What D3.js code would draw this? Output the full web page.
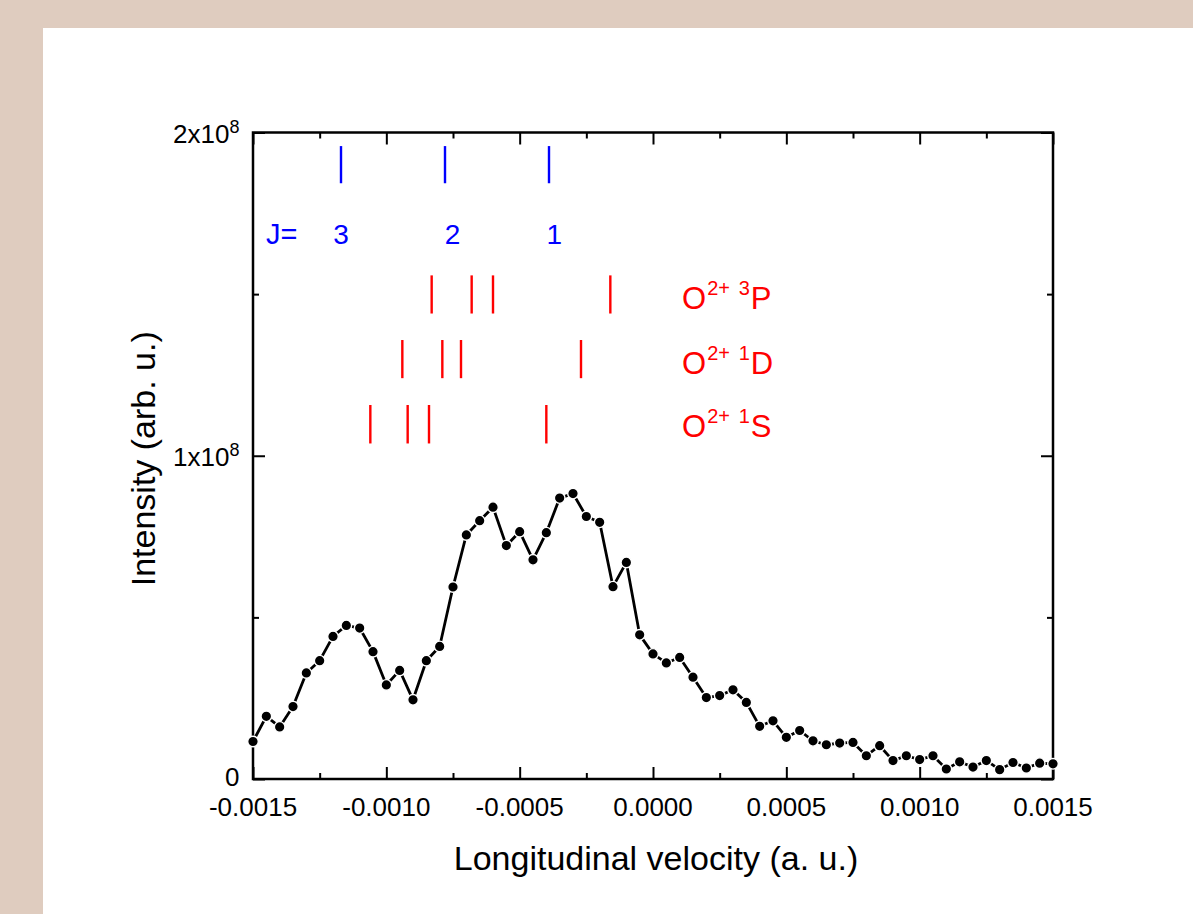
<!DOCTYPE html>
<html>
<head>
<meta charset="utf-8">
<script src="https://cdn.jsdelivr.net/npm/d3@7"></script>
<style>
  html, body { margin: 0; padding: 0; background: #dfccbf; }
  svg { display: block; }
  text { font-family: "Liberation Sans", Arial, Helvetica, sans-serif; }
</style>
</head>
<body>
<svg id="chart" width="1193" height="914"></svg>
<script>
// Measured spectrum: longitudinal velocity (units of 1e-5 a.u.) and intensity (units of 1e6)
const velocityE5 = [
  -150, -145, -140, -135, -130, -125, -120, -115, -110, -105,
  -100,  -95,  -90,  -85,  -80,  -75,  -70,  -65,  -60,  -55,
   -50,  -45,  -40,  -35,  -30,  -25,  -20,  -15,  -10,   -5,
     0,    5,   10,   15,   20,   25,   30,   35,   40,   45,
    50,   55,   60,   65,   70,   75,   80,   85,   90,   95,
   100,  105,  110,  115,  120,  125,  130,  135,  140,  145,
   150
];
const intensityE6 = [
  11.6, 19.4, 16.1, 22.4, 32.8, 36.6, 44.1, 47.5, 46.7, 39.4,
  29.1, 33.6, 24.5, 36.6, 41.0, 59.4, 75.5, 79.9, 84.1, 72.2,
  76.5, 67.8, 76.2, 86.9, 88.3, 81.2, 79.4, 59.5, 67.0, 44.6,
  38.7, 35.9, 37.6, 31.5, 25.2, 25.8, 27.6, 23.7, 16.3, 18.0,
  12.9, 15.0, 11.8, 10.6, 11.1, 11.3,  7.2, 10.3,  5.7,  7.2,
   6.0,  7.2,  3.1,  5.3,  3.7,  5.7,  2.9,  5.1,  3.4,  4.9,
   4.7
];

// Expected positions for J = 3, 2, 1
const jLevels = ["3", "2", "1"];
const jVelocity = [-0.00117, -0.00078, -0.00039];
const jLabelVelocity = [-0.00117, -0.000752, -0.00037];
const jBand = [1.843e8, 1.958e8];

// Expected positions for the O2+ electronic states
const stateNames = [
  { sup: "3", term: "P" },
  { sup: "1", term: "D" },
  { sup: "1", term: "S" }
];
const stateVelocities = [
  [-0.00083, -0.00068, -0.00060, -0.00016],
  [-0.00094, -0.00079, -0.00072, -0.00027],
  [-0.00106, -0.00092, -0.00084, -0.00040]
];
const stateBands = [
  [1.440e8, 1.558e8],
  [1.240e8, 1.358e8],
  [1.038e8, 1.157e8]
];
const stateLabelY = [1.455e8, 1.252e8, 1.0575e8];
const stateLabelX = 0.000109;

// Axis ticks and labels
const xMajor = [-0.0015, -0.0010, -0.0005, 0, 0.0005, 0.0010, 0.0015];
const xMinor = [-0.00125, -0.00075, -0.00025, 0.00025, 0.00075, 0.00125];
const xTickLabels = ["-0.0015", "-0.0010", "-0.0005", "0.0000", "0.0005", "0.0010", "0.0015"];
const yMajor = [0, 1e8, 2e8];
const yMinor = [0.5e8, 1.5e8];
const yTickLabels = [{ base: "0", exp: "" }, { base: "1x10", exp: "8" }, { base: "2x10", exp: "8" }];

const data = velocityE5.map((v, i) => ({ v: v * 1e-5, I: intensityE6[i] * 1e6 }));

const svg = d3.select("#chart");
const W = 1193, H = 914;
const plot = { left: 253, right: 1053, top: 132.5, bottom: 779 };

// white page panel
svg.append("rect").attr("x", 43).attr("y", 28).attr("width", W - 43).attr("height", H - 28).attr("fill", "#fff");

const x = d3.scaleLinear().domain([-0.0015, 0.0015]).range([plot.left, plot.right]);
const y = d3.scaleLinear().domain([0, 2e8]).range([plot.bottom, plot.top]);

const MAJ = 12, MIN = 6;

function styleAxis(g) {
  g.select(".domain").remove();
  g.selectAll(".tick line").attr("stroke", "#000").attr("stroke-width", 2);
  g.selectAll(".tick text").remove();
}

// inward ticks on all four sides
const axes = [
  [d3.axisBottom(x), `translate(0,${plot.bottom})`, xMajor, xMinor],
  [d3.axisTop(x), `translate(0,${plot.top})`, xMajor, xMinor],
  [d3.axisLeft(y), `translate(${plot.left},0)`, yMajor, yMinor],
  [d3.axisRight(y), `translate(${plot.right},0)`, yMajor, yMinor]
];
axes.forEach(([axisFn, tr, major, minor]) => {
  svg.append("g").attr("transform", tr)
    .call(axisFn.tickValues(major).tickSize(-MAJ).tickSizeOuter(0).tickFormat(""))
    .call(styleAxis);
  svg.append("g").attr("transform", tr)
    .call(axisFn.tickValues(minor).tickSize(-MIN).tickSizeOuter(0).tickFormat(""))
    .call(styleAxis);
});

// frame
svg.append("rect")
  .attr("x", plot.left).attr("y", plot.top)
  .attr("width", plot.right - plot.left).attr("height", plot.bottom - plot.top)
  .attr("fill", "none").attr("stroke", "#000").attr("stroke-width", 2.5);

// x tick labels
svg.append("g").selectAll("text").data(xMajor).join("text")
  .attr("x", d => x(d)).attr("y", plot.bottom + 37)
  .attr("text-anchor", "middle").attr("font-size", 26).attr("fill", "#000")
  .text((d, i) => xTickLabels[i]);

// y tick labels with superscript exponents
const yl = svg.append("g").selectAll("text").data(yMajor).join("text")
  .attr("x", plot.left - 13.5).attr("y", d => y(d) + (d === 0 ? 7 : 10.5))
  .attr("text-anchor", "end").attr("font-size", 26).attr("fill", "#000");
yl.each(function (d, i) {
  const t = d3.select(this);
  t.append("tspan").text(yTickLabels[i].base);
  if (yTickLabels[i].exp) {
    t.append("tspan").attr("font-size", 18).attr("dy", -10).text(yTickLabels[i].exp);
  }
});

// axis titles
svg.append("text")
  .attr("x", 656).attr("y", 870)
  .attr("text-anchor", "middle").attr("font-size", 34).attr("fill", "#000")
  .text("Longitudinal velocity (a. u.)");
svg.append("text")
  .attr("transform", `translate(155,${(plot.top + plot.bottom) / 2 + 3}) rotate(-90)`)
  .attr("text-anchor", "middle").attr("font-size", 34).attr("fill", "#000")
  .text("Intensity (arb. u.)");

// J markers (blue)
const blue = "#0000ff", red = "#ff0000";
svg.append("g").selectAll("line").data(jVelocity).join("line")
  .attr("x1", d => x(d)).attr("x2", d => x(d))
  .attr("y1", y(jBand[0])).attr("y2", y(jBand[1]))
  .attr("stroke", blue).attr("stroke-width", 2.4);
svg.append("text")
  .attr("x", 266).attr("y", y(1.6538e8))
  .attr("font-size", 29).attr("fill", blue).text("J=");
svg.append("g").selectAll("text").data(jLevels).join("text")
  .attr("x", (d, i) => x(jLabelVelocity[i])).attr("y", y(1.6538e8))
  .attr("text-anchor", "middle").attr("font-size", 28).attr("fill", blue)
  .text(d => d);

// O2+ state markers (red)
stateVelocities.forEach((vals, r) => {
  svg.append("g").selectAll("line").data(vals).join("line")
    .attr("x1", d => x(d)).attr("x2", d => x(d))
    .attr("y1", y(stateBands[r][0])).attr("y2", y(stateBands[r][1]))
    .attr("stroke", red).attr("stroke-width", 2.4);
  const t = svg.append("text")
    .attr("x", x(stateLabelX)).attr("y", y(stateLabelY[r]))
    .attr("font-size", 31).attr("fill", red);
  t.append("tspan").text("O");
  t.append("tspan").attr("font-size", 20).attr("dy", -14).attr("dx", 1).text("2+");
  t.append("tspan").attr("dy", 14).text(" ");
  t.append("tspan").attr("font-size", 20).attr("dy", -14).text(stateNames[r].sup);
  t.append("tspan").attr("dy", 14).attr("dx", 1).text(stateNames[r].term);
});

// data line and markers
svg.append("path").datum(data)
  .attr("fill", "none").attr("stroke", "#000").attr("stroke-width", 2.8)
  .attr("stroke-linejoin", "round")
  .attr("d", d3.line().x(d => x(d.v)).y(d => y(d.I)));
svg.append("g").selectAll("circle").data(data).join("circle")
  .attr("cx", d => x(d.v)).attr("cy", d => y(d.I)).attr("r", 5.3)
  .attr("fill", "#000").attr("stroke", "#fff").attr("stroke-width", 1.4);
</script>
</body>
</html>
